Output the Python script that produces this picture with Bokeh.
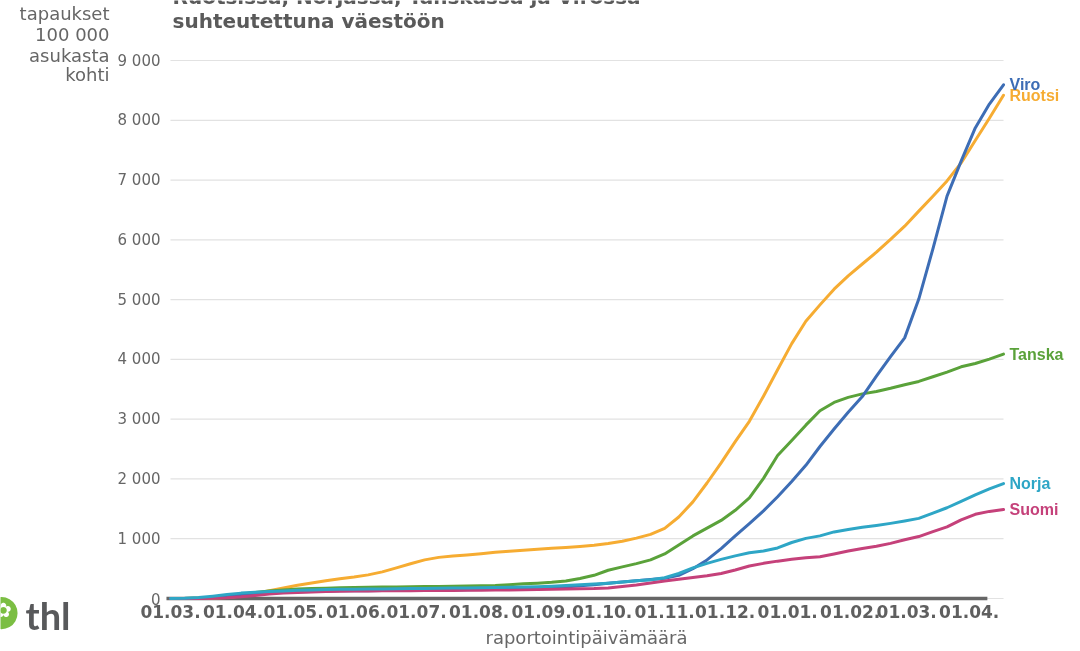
import pandas as pd
from bokeh.plotting import figure
from bokeh.models import Range1d, Label
from bokeh.embed import file_html
from bokeh.resources import INLINE
from bokeh.core.properties import value

# ---------------- data ----------------
first_date = "2020-03-01"
n_weeks = 60  # weekly reporting dates

month_starts = ["2020-03-01", "2020-04-01", "2020-05-01", "2020-06-01", "2020-07-01",
                "2020-08-01", "2020-09-01", "2020-10-01", "2020-11-01", "2020-12-01",
                "2021-01-01", "2021-02-01", "2021-03-01", "2021-04-01"]
month_labels = ["01.03.", "01.04.", "01.05.", "01.06.", "01.07.", "01.08.", "01.09.",
                "01.10.", "01.11.", "01.12.", "01.01.", "01.02.", "01.03.", "01.04."]
y_ticks = [0, 1000, 2000, 3000, 4000, 5000, 6000, 7000, 8000, 9000]

ruotsi = [0, 2, 4, 9, 18, 42, 85, 128, 175, 222, 260, 297, 330, 358, 395, 445, 512, 582, 646, 688,
          712, 729, 750, 772, 792, 809, 824, 839, 854, 871, 891, 921, 957, 1010, 1072, 1174, 1364, 1616, 1932, 2269,
          2623, 2964, 3385, 3826, 4264, 4639, 4912, 5175, 5398, 5596, 5793, 6009, 6228, 6480, 6730, 6985, 7288, 7661, 8033, 8419]
viro = [0, 1, 6, 22, 45, 68, 84, 96, 106, 113, 118, 123, 128, 130, 131, 133, 134, 136, 139, 141,
        144, 147, 149, 153, 158, 163, 171, 181, 194, 212, 231, 257, 277, 297, 316, 339, 388, 498, 645, 835,
        1046, 1252, 1466, 1703, 1959, 2228, 2543, 2835, 3116, 3378, 3720, 4047, 4360, 5009, 5850, 6732, 7316, 7872, 8272, 8594]
tanska = [0, 2, 7, 20, 42, 71, 100, 124, 144, 157, 167, 173, 178, 183, 188, 191, 194, 197, 199, 201,
          204, 208, 213, 218, 230, 245, 256, 270, 292, 335, 388, 472, 529, 583, 646, 745, 895, 1047, 1177, 1306,
          1475, 1682, 2010, 2393, 2642, 2900, 3142, 3280, 3365, 3423, 3463, 3517, 3577, 3631, 3709, 3788, 3876, 3931, 4005, 4088]
norja = [0, 3, 15, 38, 66, 90, 105, 117, 127, 137, 144, 149, 154, 156, 159, 161, 164, 166, 169, 171,
         174, 177, 179, 184, 189, 193, 198, 206, 216, 229, 241, 257, 277, 295, 313, 348, 418, 512, 588, 654,
         713, 765, 794, 846, 937, 1006, 1048, 1114, 1154, 1192, 1222, 1257, 1296, 1340, 1429, 1518, 1626, 1735, 1833, 1923]
suomi = [0, 0, 1, 4, 12, 29, 52, 74, 90, 102, 110, 116, 121, 124, 126, 128, 129, 131, 132, 133,
         134, 136, 139, 141, 144, 147, 149, 153, 158, 163, 167, 177, 199, 225, 258, 294, 323, 352, 379, 418,
         477, 544, 588, 625, 655, 682, 700, 746, 794, 838, 873, 922, 982, 1036, 1119, 1198, 1316, 1408, 1457, 1488]

series_names = ["Ruotsi", "Tanska", "Viro", "Suomi", "Norja"]
series_values = [ruotsi, tanska, viro, suomi, norja]
series_colors = ["#F6AC32", "#5AA23A", "#3D6DB5", "#C5417A", "#2EA6C6"]

zero_line_dates = ["2020-02-28", "2021-04-10"]
zero_line_values = [0, 0]

# ---------------- geometry ----------------
t0 = pd.Timestamp(first_date)
dates = pd.date_range(first_date, periods=n_weeks, freq="7D")
days = [(d - t0).days for d in dates]
tick_days = [(pd.Timestamp(m) - t0).days for m in month_starts]
plot_start_day, plot_end_day = 0, 413

W, H = 1080, 651
PL, PR, PT, PB = 170, 1003, 60, 598  # plotting area in canvas pixels
sx = (PR - PL) / (plot_end_day - plot_start_day)
sy = (PB - PT) / 9000
x_range = Range1d(plot_start_day - PL / sx, plot_end_day + (W - PR) / sx)
y_range = Range1d(-(H - PB) / sy, 9000 + PT / sy)

GRAY = "#5f5f5f"
LGRAY = "#666666"

p = figure(width=W, height=H, output_backend="svg", toolbar_location=None,
           x_range=x_range, y_range=y_range,
           x_axis_location=None, y_axis_location=None,
           min_border=0, min_border_left=0, min_border_right=0, min_border_top=0, min_border_bottom=0,
           styles={"position": "fixed", "top": "0px", "left": "0px"})
p.outline_line_color = None
p.grid.visible = False
p.background_fill_color = "white"
p.border_fill_color = "white"

# horizontal grid lines
p.segment(x0=[plot_start_day] * len(y_ticks), y0=y_ticks,
          x1=[plot_end_day] * len(y_ticks), y1=y_ticks,
          line_color="#e2e2e2", line_width=1.2)

# y tick labels
p.text(x=[plot_start_day] * len(y_ticks), y=y_ticks,
       text=[f"{v:,}".replace(",", " ") for v in y_ticks],
       x_offset=-10, text_align="right", text_baseline="middle",
       text_font=value("DejaVu Sans"), text_font_size="15px", text_color=LGRAY)

# x tick labels
p.text(x=tick_days, y=[0] * len(tick_days), text=month_labels,
       y_offset=13, text_align="center", text_baseline="alphabetic",
       text_font=value("DejaVu Sans"), text_font_style="bold", text_font_size="17px",
       text_color=GRAY)

# baseline
p.line([(pd.Timestamp(d) - t0).days for d in zero_line_dates], zero_line_values,
       line_color="#666666", line_width=3.5)

for name, vals, col in zip(series_names, series_values, series_colors):
    p.line(days, vals, line_color=col, line_width=3, line_join="round", line_cap="round")
    p.add_layout(Label(x=days[-1], y=vals[-1], text=name, x_offset=6,
                       text_baseline="middle", text_align="left",
                       text_font="Liberation Sans", text_font_style="bold",
                       text_font_size="16px", text_color=col))

def screen_label(x, y_base, text, size, style="normal", align="left", color=GRAY,
                 font="DejaVu Sans", baseline="alphabetic"):
    p.add_layout(Label(x=x, y=H - y_base, x_units="screen", y_units="screen", text=text,
                       text_font=font, text_font_style=style, text_font_size=size,
                       text_color=color, text_align=align, text_baseline=baseline))

# title (first line partly cut off at the top)
screen_label(172, -4, "Ruotsissa, Norjassa, Tanskassa ja Virossa", "20px", "bold", color="#5a5a5a")
screen_label(172, 20, "suhteutettuna väestöön", "20px", "bold", color="#5a5a5a")

# y-axis title
for txt, yb in zip(["tapaukset", "100 000", "asukasta", "kohti"], [13, 34, 55, 74]):
    screen_label(109, yb, txt, "18px", align="right", color=LGRAY)

# x-axis title
screen_label(586, 637, "raportointipäivämäärä", "18px", align="center", color=LGRAY)

# thl logo
screen_label(1, 609, "●", "42px", color="#7BBE43", align="center", baseline="middle")
screen_label(3, 609, "✿", "20px", color="white", align="center", baseline="middle")
screen_label(25, 614, "thl", "38px", "bold", color="#58595b", font="Lato")

open("out.html", "w").write(file_html(p, INLINE))
